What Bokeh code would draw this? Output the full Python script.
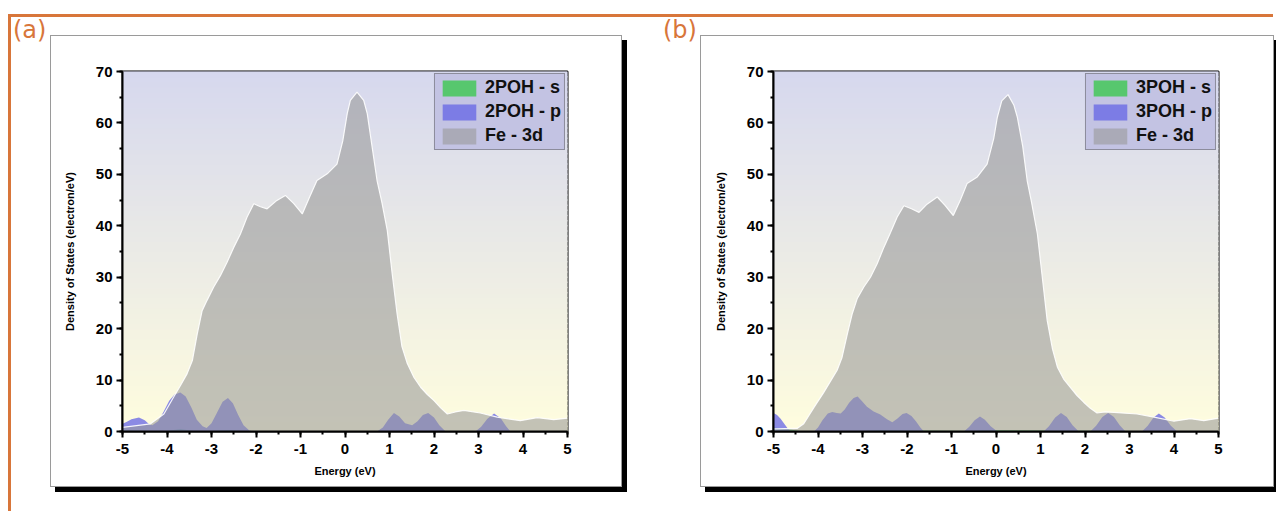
import numpy as np
from bokeh.plotting import figure
from bokeh.models import (Range1d, SingleIntervalTicker, Legend, LegendItem, Div, Spacer,
                          PrintfTickFormatter)
from bokeh.layouts import row, column
from bokeh.embed import file_html
from bokeh.resources import INLINE

# ---------------- data ----------------
energy_fe_a = [-5.0, -4.37, -4.07, -3.85, -3.70, -3.55, -3.43, -3.32, -3.21, -3.10, -2.95, -2.80,
               -2.65, -2.50, -2.35, -2.20, -2.05, -1.90, -1.75, -1.55, -1.34, -1.15, -0.96, -0.80,
               -0.63, -0.40, -0.18, -0.05, 0.05, 0.12, 0.27, 0.42, 0.50, 0.61, 0.72, 0.83, 0.95,
               1.06, 1.17, 1.28, 1.40, 1.55, 1.70, 1.85, 2.00, 2.15, 2.30, 2.48, 2.67, 3.04,
               3.42, 3.94, 4.32, 4.69, 5.0]
fe3d_a = [0.8, 1.5, 3.4, 6.7, 8.9, 11.2, 13.8, 19.0, 23.5, 25.5, 28.1, 30.3,
          32.9, 35.8, 38.4, 41.7, 44.3, 43.7, 43.3, 44.8, 45.9, 44.3, 42.3, 45.5,
          48.8, 50.1, 52.0, 56.5, 61.8, 64.4, 66.0, 64.4, 61.8, 55.3, 48.8, 44.5, 39.1,
          30.7, 22.9, 16.5, 13.2, 10.5, 8.6, 7.2, 6.0, 4.6, 3.4, 3.8, 4.1, 3.6,
          2.8, 2.1, 2.7, 2.3, 2.6]

energy_p_a = [-5.0, -4.9, -4.8, -4.63, -4.5, -4.4, -4.33, -4.2, -4.08, -3.95, -3.83, -3.70,
              -3.58, -3.45, -3.33, -3.2, -3.11, -3.0, -2.88, -2.75, -2.63, -2.52, -2.4, -2.28,
              -2.15, -2.05, 0.72, 0.85, 0.97, 1.10, 1.22, 1.35, 1.51, 1.63, 1.75, 1.87, 2.0,
              2.12, 2.26, 2.93, 3.06, 3.2, 3.35, 3.5, 3.62, 3.72, 5.0]
p_2poh = [1.5, 1.9, 2.4, 2.7, 2.2, 1.4, 1.2, 2.0, 3.8, 6.0, 7.2, 7.6,
          6.8, 4.6, 2.3, 1.0, 0.7, 1.6, 3.6, 5.8, 6.5, 5.5, 3.2, 1.2,
          0.2, 0.0, 0.0, 0.8, 2.3, 3.6, 2.9, 1.6, 1.2, 2.0, 3.2, 3.6, 2.7,
          1.2, 0.0, 0.0, 0.9, 2.5, 3.5, 2.6, 1.0, 0.0, 0.0]

energy_s_a = [-5.0, -4.4, -4.0, -3.7, -3.4, -3.0, -2.6, -2.2, 5.0]
s_2poh = [0.3, 0.1, 0.1, 0.5, 0.1, 0.1, 0.3, 0.0, 0.0]

energy_fe_b = [-5.0, -4.47, -4.32, -4.09, -3.87, -3.57, -3.46, -3.34, -3.23, -3.12, -2.97, -2.82,
               -2.67, -2.52, -2.37, -2.22, -2.07, -1.90, -1.73, -1.55, -1.32, -1.15, -0.96, -0.80,
               -0.65, -0.42, -0.20, -0.05, 0.03, 0.13, 0.27, 0.40, 0.48, 0.60, 0.70, 0.80, 0.93,
               1.04, 1.15, 1.27, 1.38, 1.52, 1.67, 1.82, 1.97, 2.12, 2.27, 2.45, 2.65, 3.17,
               3.55, 4.0, 4.37, 4.67, 5.0]
fe3d_b = [0.5, 0.6, 1.5, 4.7, 7.6, 11.9, 14.4, 19.0, 22.9, 25.8, 28.1, 30.0,
          32.6, 35.8, 38.7, 41.7, 43.9, 43.3, 42.6, 44.2, 45.6, 44.0, 42.0, 45.0,
          48.2, 49.5, 52.0, 57.0, 61.1, 64.3, 65.5, 63.5, 61.1, 55.5, 48.8, 44.5, 38.4,
          30.0, 21.6, 16.0, 12.5, 10.2, 8.6, 7.0, 5.7, 4.5, 3.6, 3.8, 3.7, 3.4,
          2.8, 2.0, 2.5, 2.1, 2.6]

energy_p_b = [-5.0, -4.92, -4.84, -4.75, -4.68, -4.62, -4.09, -4.0, -3.9, -3.78, -3.68, -3.58,
              -3.49, -3.4, -3.3, -3.2, -3.11, -3.02, -2.9, -2.75, -2.6, -2.45, -2.33, -2.22,
              -2.1, -2.01, -1.9, -1.8, -1.7, -1.62, -0.72, -0.6, -0.48, -0.36, -0.25, -0.12,
              0.03, 1.07, 1.19, 1.33, 1.46, 1.59, 1.72, 1.86, 2.12, 2.25, 2.39, 2.52, 2.65,
              2.78, 2.91, 3.28, 3.41, 3.54, 3.66, 3.79, 3.93, 4.07, 5.0]
p_3poh = [3.6, 3.2, 2.5, 1.4, 0.6, 0.0, 0.0, 0.8, 2.2, 3.5, 3.8, 3.6,
          3.5, 4.3, 5.6, 6.5, 6.8, 6.0, 4.8, 3.9, 3.3, 2.4, 1.8, 2.5,
          3.4, 3.6, 3.0, 2.0, 0.8, 0.0, 0.0, 0.9, 2.2, 2.9, 2.3, 1.0,
          0.0, 0.0, 1.0, 2.7, 3.6, 2.8, 1.2, 0.0, 0.0, 1.1, 2.8, 3.6, 2.8,
          1.2, 0.0, 0.0, 1.1, 2.7, 3.5, 2.7, 1.1, 0.0, 0.0]

energy_s_b = [-5.0, -4.7, -4.4, -3.0, -2.6, -0.5, -0.3, 5.0]
s_3poh = [0.8, 0.5, 0.1, 0.1, 0.3, 0.1, 0.3, 0.0]

x_limits = (-5, 5)
y_limits = (0, 70)
labels_a = ["2POH - s", "2POH - p", "Fe - 3d"]
labels_b = ["3POH - s", "3POH - p", "Fe - 3d"]
x_title = "Energy (eV)"
y_title = "Density of States (electron/eV)"

# ---------------- styling ----------------
ORANGE = "#d8763a"
FONT = "Liberation Sans"
FIG_H = 450


def make_panel(e_fe, fe, e_p, pv, e_s, sv, labels, W, bl, br):
    p = figure(width=W, height=FIG_H, x_range=Range1d(*x_limits), y_range=Range1d(*y_limits),
               output_backend="svg", toolbar_location=None,
               min_border_left=bl, min_border_right=br, min_border_top=35, min_border_bottom=55,
               margin=(19, 0, 0, 0),
               styles={"box-shadow": "0 0 0 1px #9a9a9a, 5px 5px 0 1px #000000"})
    p.background_fill_color = "white"
    p.border_fill_color = "white"
    p.outline_line_color = "black"
    p.outline_line_width = 2
    p.xgrid.visible = False
    p.ygrid.visible = False

    # gradient background of plot area
    n = 70
    edges = np.linspace(y_limits[0], y_limits[1], n + 1)
    top_c = np.array([214, 216, 238])
    bot_c = np.array([255, 253, 222])
    cols = []
    for i in range(n):
        t = (i + 0.5) / n
        c = bot_c * (1 - t) + top_c * t
        cols.append("#%02x%02x%02x" % tuple(int(round(v)) for v in c))
    p.quad(left=x_limits[0], right=x_limits[1], bottom=edges[:-1], top=edges[1:],
           fill_color=cols, line_color=cols, line_width=1.5)

    r_s = p.varea(x=e_s, y1=0, y2=sv, fill_color="#3cc850", fill_alpha=0.8)
    r_p = p.varea(x=e_p, y1=0, y2=pv, fill_color="#6464e6", fill_alpha=0.75)
    r_fe = p.varea(x=e_fe, y1=0, y2=fe, fill_color="#989898", fill_alpha=0.58)
    p.line(x=e_fe, y=fe, line_color="white", line_width=1.2, line_alpha=0.9)

    legend = Legend(items=[LegendItem(label=labels[0], renderers=[r_s]),
                           LegendItem(label=labels[1], renderers=[r_p]),
                           LegendItem(label=labels[2], renderers=[r_fe])],
                    location="top_right")
    legend.margin = 2
    legend.padding = 3
    legend.spacing = 3
    legend.glyph_width = 42
    legend.glyph_height = 20
    legend.label_height = 20
    legend.label_standoff = 5
    legend.label_text_font = FONT
    legend.label_text_font_style = "bold"
    legend.label_text_font_size = "18px"
    legend.label_text_color = "#111111"
    legend.background_fill_color = "#c3c3e3"
    legend.background_fill_alpha = 1
    legend.border_line_color = "#555555"
    legend.border_line_width = 1
    p.add_layout(legend)

    p.xaxis.ticker = SingleIntervalTicker(interval=1, num_minor_ticks=2)
    p.yaxis.ticker = SingleIntervalTicker(interval=10, num_minor_ticks=2)
    p.xaxis.formatter = PrintfTickFormatter(format="%d")
    p.yaxis.formatter = PrintfTickFormatter(format="%d")
    for ax in (p.xaxis, p.yaxis):
        ax.axis_line_width = 2
        ax.axis_line_color = "black"
        ax.major_tick_line_width = 2
        ax.minor_tick_line_width = 2
        ax.major_tick_in = 0
        ax.major_tick_out = 6
        ax.minor_tick_in = 0
        ax.minor_tick_out = 3
        ax.major_label_text_font = FONT
        ax.major_label_text_font_style = "bold"
        ax.major_label_text_font_size = "15px"
        ax.major_label_text_color = "black"
        ax.axis_label_text_font = FONT
        ax.axis_label_text_font_style = "bold"
        ax.axis_label_text_font_size = "11px"
        ax.axis_label_text_color = "black"
    p.xaxis.axis_label = x_title
    p.yaxis.axis_label = y_title
    p.xaxis.major_label_standoff = 6
    p.yaxis.major_label_standoff = 4
    p.xaxis.axis_label_standoff = 8
    p.yaxis.axis_label_standoff = 17
    return p


def tag_div(tag, width, pad):
    html = ('<div style="padding-left:%dpx; padding-top:1px; color:%s; font-family:\'DejaVu Sans\'; '
            'font-size:24px; line-height:1;">%s</div>' % (pad, ORANGE, tag))
    return Div(text=html, width=width, height=497, margin=(0, 0, 0, 0))


pa = make_panel(energy_fe_a, fe3d_a, energy_p_a, p_2poh, energy_s_a, s_2poh, labels_a,
                W=570, bl=71, br=54)
pb = make_panel(energy_fe_b, fe3d_b, energy_p_b, p_3poh, energy_s_b, s_3poh, labels_b,
                W=572, bl=72, br=55)

content = row(tag_div("(a)", 40, 2), pa, tag_div("(b)", 80, 42), pb,
              Spacer(width=3, height=10, margin=(0, 0, 0, 0)), spacing=0)
outer = column(content, spacing=0, margin=(17, 0, 0, 11),
               styles={"box-shadow": "-3px -3px 0 0 %s" % ORANGE})
open("out.html", "w").write(file_html(outer, INLINE))
